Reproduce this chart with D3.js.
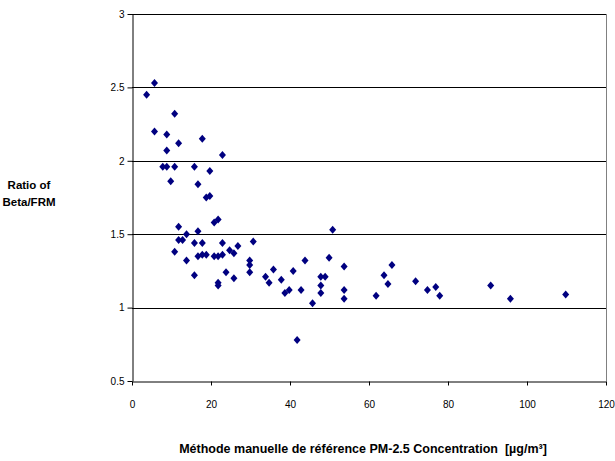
<!DOCTYPE html>
<html>
<head>
<meta charset="utf-8">
<script src="https://cdnjs.cloudflare.com/ajax/libs/d3/7.8.5/d3.min.js"></script>
<style>
body { margin: 0; background: #fff; }
svg text { font-family: "Liberation Sans", Arial, sans-serif; }
</style>
</head>
<body>
<div id="main"></div>
<script>
// PM-2.5 reference concentration vs Beta/FRM ratio
var concentration = [3.7, 5.7, 10.8, 5.7, 8.8, 11.8, 17.8, 8.8, 22.9, 7.8, 8.8, 10.8, 15.8, 19.7, 9.8, 16.7, 18.8, 19.7,
    11.8, 20.8, 21.8, 16.7, 11.8, 12.8, 13.8, 15.8, 17.8, 22.9, 30.7, 26.8, 24.7, 25.8, 10.8, 16.7, 17.8, 18.8,
    20.8, 21.8, 22.9, 13.8, 29.8, 29.8, 29.8, 23.8, 25.8, 15.8, 21.8, 21.8, 33.8, 34.7, 35.8, 37.8, 40.8, 43.8,
    38.7, 39.8, 42.8, 45.7, 41.8, 47.8, 48.9, 47.8, 47.8, 49.9, 53.7, 53.7, 53.7, 61.8, 63.8, 64.8, 65.8, 50.8,
    71.8, 74.8, 76.9, 77.9, 90.8, 95.8, 109.8];
var ratio = [2.45, 2.53, 2.32, 2.20, 2.18, 2.12, 2.15, 2.07, 2.04, 1.96, 1.96, 1.96, 1.96, 1.93, 1.86, 1.84, 1.75, 1.76,
    1.55, 1.58, 1.60, 1.52, 1.46, 1.46, 1.50, 1.44, 1.44, 1.44, 1.45, 1.42, 1.39, 1.37, 1.38, 1.35, 1.36, 1.36,
    1.35, 1.35, 1.36, 1.32, 1.32, 1.29, 1.24, 1.24, 1.20, 1.22, 1.17, 1.15, 1.21, 1.17, 1.26, 1.19, 1.25, 1.32,
    1.10, 1.12, 1.12, 1.03, 0.78, 1.21, 1.21, 1.15, 1.10, 1.34, 1.28, 1.12, 1.06, 1.08, 1.22, 1.16, 1.29, 1.53,
    1.18, 1.12, 1.14, 1.08, 1.15, 1.06, 1.09];
var xTicks = [0, 20, 40, 60, 80, 100, 120];
var yTicks = [0.5, 1, 1.5, 2, 2.5, 3];
var yTitle = ['Ratio of', 'Beta/FRM'];
var xTitle = 'Méthode manuelle de référence PM-2.5 Concentration\u00a0\u00a0[µg/m³]';

var width = 615, height = 461;
var margin = {top: 14, right: 9, bottom: 80, left: 132};

var points = concentration.map((c, i) => ({x: c, y: ratio[i]}));

var svg = d3.select('#main').append('svg')
    .attr('width', width)
    .attr('height', height);

var x = d3.scaleLinear()
    .domain([0, 120])
    .range([margin.left, width - margin.right]);
var y = d3.scaleLinear()
    .domain([0.5, 3])
    .range([height - margin.bottom, margin.top]);

// gridlines
svg.append('g')
    .attr('class', 'grid')
    .selectAll('line')
    .data(yTicks.filter(d => d > 0.5))
    .enter()
    .append('line')
    .attr('x1', x(0))
    .attr('x2', x(120))
    .attr('y1', d => Math.round(y(d)) + 0.5)
    .attr('y2', d => Math.round(y(d)) + 0.5)
    .attr('stroke', '#000')
    .attr('stroke-width', 1);

// right border
svg.append('line')
    .attr('x1', Math.round(x(120)) + 0.5)
    .attr('x2', Math.round(x(120)) + 0.5)
    .attr('y1', y(3))
    .attr('y2', y(0.5))
    .attr('stroke', '#808080');

var xAxis = svg.append('g')
    .attr('class', 'x-axis')
    .attr('transform', 'translate(0,' + (Math.round(y(0.5)) + 0.5) + ')')
    .call(d3.axisBottom(x)
        .tickValues(xTicks)
        .tickSize(4)
        .tickPadding(15)
        .tickSizeOuter(0));

var yAxis = svg.append('g')
    .attr('class', 'y-axis')
    .attr('transform', 'translate(' + (Math.round(x(0)) + 0.5) + ',0)')
    .call(d3.axisLeft(y)
        .tickValues(yTicks)
        .tickFormat(d3.format('~g'))
        .tickSize(5)
        .tickPadding(3)
        .tickSizeOuter(0));

svg.selectAll('.x-axis, .y-axis').selectAll('text')
    .attr('font-size', '10px')
    .attr('fill', '#000');
svg.selectAll('.x-axis, .y-axis').selectAll('path, line')
    .attr('stroke', '#000');

// markers
var diamond = 'M0,-4L3.5,0L0,4L-3.5,0Z';
svg.append('g')
    .attr('class', 'points')
    .selectAll('path')
    .data(points)
    .enter()
    .append('path')
    .attr('d', diamond)
    .attr('transform', d => 'translate(' + x(d.x) + ',' + y(d.y) + ')')
    .attr('fill', '#000080');

// axis titles
svg.append('text')
    .attr('x', 29)
    .attr('y', 189)
    .attr('text-anchor', 'middle')
    .attr('font-size', '11.5px')
    .attr('font-weight', 'bold')
    .selectAll('tspan')
    .data(yTitle)
    .enter()
    .append('tspan')
    .attr('x', 29)
    .attr('dy', (d, i) => i ? '1.5em' : 0)
    .text(d => d);

svg.append('text')
    .attr('x', 363)
    .attr('y', 453)
    .attr('text-anchor', 'middle')
    .attr('font-size', '12.5px')
    .attr('font-weight', 'bold')
    .text(xTitle);
</script>
</body>
</html>
